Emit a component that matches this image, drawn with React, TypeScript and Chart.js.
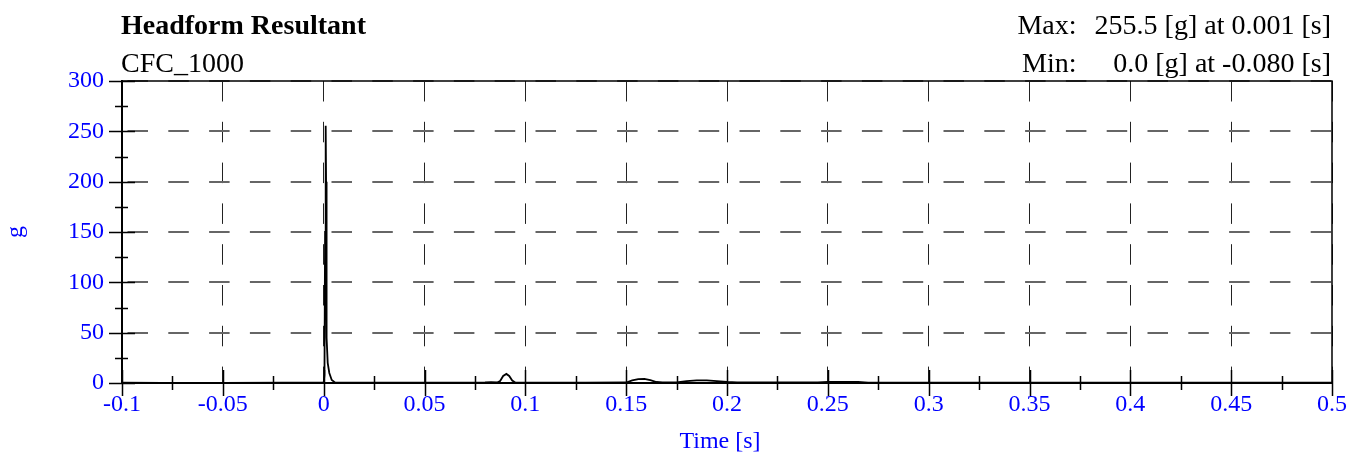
import React, { useEffect, useRef } from 'react';
import { Chart, registerables } from 'chart.js';

Chart.register(...registerables);

// ---- data ----
const timeS = [
  -0.1, -0.08, -0.05, -0.02, -0.005, 0, 0.0004, 0.0007, 0.001, 0.0012, 0.0014, 0.0015,
  0.002, 0.0028, 0.004, 0.0056, 0.01, 0.03, 0.06, 0.08, 0.083, 0.086, 0.0875, 0.089,
  0.0906, 0.092, 0.0935, 0.095, 0.1, 0.13, 0.15, 0.153, 0.156, 0.159, 0.162, 0.165,
  0.168, 0.175, 0.18, 0.185, 0.19, 0.195, 0.2, 0.205, 0.22, 0.245, 0.25, 0.265, 0.27,
  0.3, 0.35, 0.4, 0.45, 0.5,
];
const accelG = [
  0.3, 0, 0.2, 0.3, 0.3, 0.5, 8, 150, 255.5, 200, 90, 45,
  20, 10, 3, 0.6, 0.4, 0.3, 0.3, 0.5, 0.8, 0.5, 2, 7,
  9, 7, 2.5, 0.5, 0.3, 0.3, 0.5, 2.5, 3.8, 4, 2.8, 1,
  0.5, 0.6, 1.8, 2.6, 2.6, 1.8, 1, 0.6, 0.5, 0.5, 1.2, 1.1, 0.4,
  0.3, 0.3, 0.3, 0.3, 0.3,
];
const xTickLabels = ['-0.1', '-0.05', '0', '0.05', '0.1', '0.15', '0.2', '0.25', '0.3', '0.35', '0.4', '0.45', '0.5'];
const yTickLabels = ['0', '50', '100', '150', '200', '250', '300'];

const chartTitle = 'Headform Resultant';
const filterLabel = 'CFC_1000';
const maxLabel = 'Max:';
const maxValue = '255.5 [g] at 0.001 [s]';
const minLabel = 'Min:';
const minValue = '0.0 [g] at -0.080 [s]';
const xAxisTitle = 'Time [s]';
const yAxisTitle = 'g';

const SERIF = '"Liberation Serif", "Times New Roman", serif';
const BLUE = '#0000ff';

const frameTicksPlugin = {
  id: 'frameTicks',
  afterDraw(chart: any) {
    const { ctx, chartArea: a, scales } = chart;
    const xs = scales.x;
    const ys = scales.y;
    ctx.save();
    ctx.strokeStyle = '#000';
    ctx.lineCap = 'butt';
    // frame
    ctx.lineWidth = 1.5;
    ctx.beginPath();
    ctx.moveTo(a.left, a.top);
    ctx.lineTo(a.right, a.top);
    ctx.lineTo(a.right, a.bottom);
    ctx.stroke();
    ctx.lineWidth = 2;
    ctx.beginPath();
    ctx.moveTo(a.left, a.top - 1);
    ctx.lineTo(a.left, a.bottom);
    ctx.lineTo(a.right, a.bottom);
    ctx.stroke();
    // tick marks crossing the axes
    ctx.lineWidth = 1.5;
    const xv = xs.ticks.map((t: any) => t.value);
    const yv = ys.ticks.map((t: any) => t.value);
    ctx.beginPath();
    xv.forEach((v: number, i: number) => {
      const p = Math.round(xs.getPixelForValue(v)) + 0.5;
      ctx.moveTo(p, a.bottom - 13);
      ctx.lineTo(p, a.bottom + 13);
      if (i < xv.length - 1) {
        const m = Math.round(xs.getPixelForValue((v + xv[i + 1]) / 2)) + 0.5;
        ctx.moveTo(m, a.bottom - 7);
        ctx.lineTo(m, a.bottom + 7);
      }
    });
    yv.forEach((v: number, i: number) => {
      const p = Math.round(ys.getPixelForValue(v)) + 0.5;
      ctx.moveTo(a.left - 13, p);
      ctx.lineTo(a.left + 13, p);
      if (i < yv.length - 1) {
        const m = Math.round(ys.getPixelForValue((v + yv[i + 1]) / 2)) + 0.5;
        ctx.moveTo(a.left - 7, m);
        ctx.lineTo(a.left + 6, m);
      }
    });
    ctx.stroke();
    ctx.restore();
  },
};

export default function App() {
  const ref = useRef<HTMLCanvasElement>(null);

  useEffect(() => {
    const points = timeS.map((t, i) => ({ x: t, y: accelG[i] }));
    const chart = new Chart(ref.current as HTMLCanvasElement, {
      type: 'line',
      data: {
        datasets: [
          {
            data: points,
            borderColor: '#000',
            borderWidth: 1.8,
            pointRadius: 0,
            tension: 0,
            fill: false,
          },
        ],
      },
      options: {
        responsive: false,
        animation: false,
        devicePixelRatio: 1,
        layout: { padding: { top: 81, right: 29, left: 0, bottom: 0 } },
        plugins: {
          legend: { display: false },
          tooltip: { enabled: false },
          title: { display: false },
        },
        scales: {
          x: {
            type: 'linear',
            min: -0.1,
            max: 0.5,
            afterFit: (s: any) => {
              s.height = 71;
            },
            ticks: {
              stepSize: 0.05,
              color: BLUE,
              font: { family: SERIF, size: 24, lineHeight: 1.2 },
              padding: 7,
              maxRotation: 0,
              autoSkip: false,
              callback: (_v: any, i: number) => xTickLabels[i],
            },
            grid: { color: '#222', lineWidth: 1, drawTicks: false },
            border: { display: false, dash: [20.5, 20.3], dashOffset: 0 },
          },
          y: {
            type: 'linear',
            min: 0,
            max: 300,
            afterFit: (s: any) => {
              s.width = 122;
            },
            ticks: {
              stepSize: 50,
              color: BLUE,
              font: { family: SERIF, size: 24, lineHeight: 1.2 },
              padding: 18,
              autoSkip: false,
              callback: (_v: any, i: number) => yTickLabels[i],
            },
            grid: { color: '#666', lineWidth: 2, drawTicks: false },
            border: { display: false, dash: [20.5, 20.3], dashOffset: 35.3 },
            title: {
              display: true,
              text: yAxisTitle,
              color: BLUE,
              font: { family: SERIF, size: 24, lineHeight: 1 },
              padding: { top: 4, bottom: 0 },
            },
          },
        },
      },
      plugins: [frameTicksPlugin],
    } as any);
    return () => chart.destroy();
  }, []);

  const base: React.CSSProperties = {
    position: 'absolute',
    whiteSpace: 'nowrap',
    fontFamily: SERIF,
    color: '#000',
  };

  return (
    <div style={{ position: 'absolute', left: 0, top: 0, width: 1361, height: 454, overflow: 'hidden', background: '#fff' }}>
      <canvas ref={ref} width={1361} height={454} style={{ position: 'absolute', left: 0, top: 0, width: 1361, height: 454 }} />
      <div style={{ ...base, left: 121, top: 11, fontSize: 28, lineHeight: '28px', fontWeight: 'bold' }}>{chartTitle}</div>
      <div style={{ ...base, left: 121, top: 49, fontSize: 28, lineHeight: '28px' }}>{filterLabel}</div>
      <div style={{ ...base, right: 284.5, top: 11, fontSize: 28, lineHeight: '28px', textAlign: 'right' }}>{maxLabel}</div>
      <div style={{ ...base, right: 30, top: 11, fontSize: 28, lineHeight: '28px', textAlign: 'right' }}>{maxValue}</div>
      <div style={{ ...base, right: 284.5, top: 49, fontSize: 28, lineHeight: '28px', textAlign: 'right' }}>{minLabel}</div>
      <div style={{ ...base, right: 30, top: 49, fontSize: 28, lineHeight: '28px', textAlign: 'right' }}>{minValue}</div>
      <div style={{ ...base, left: 620, width: 200, top: 428, fontSize: 24, lineHeight: '24px', textAlign: 'center', color: BLUE }}>{xAxisTitle}</div>
    </div>
  );
}
